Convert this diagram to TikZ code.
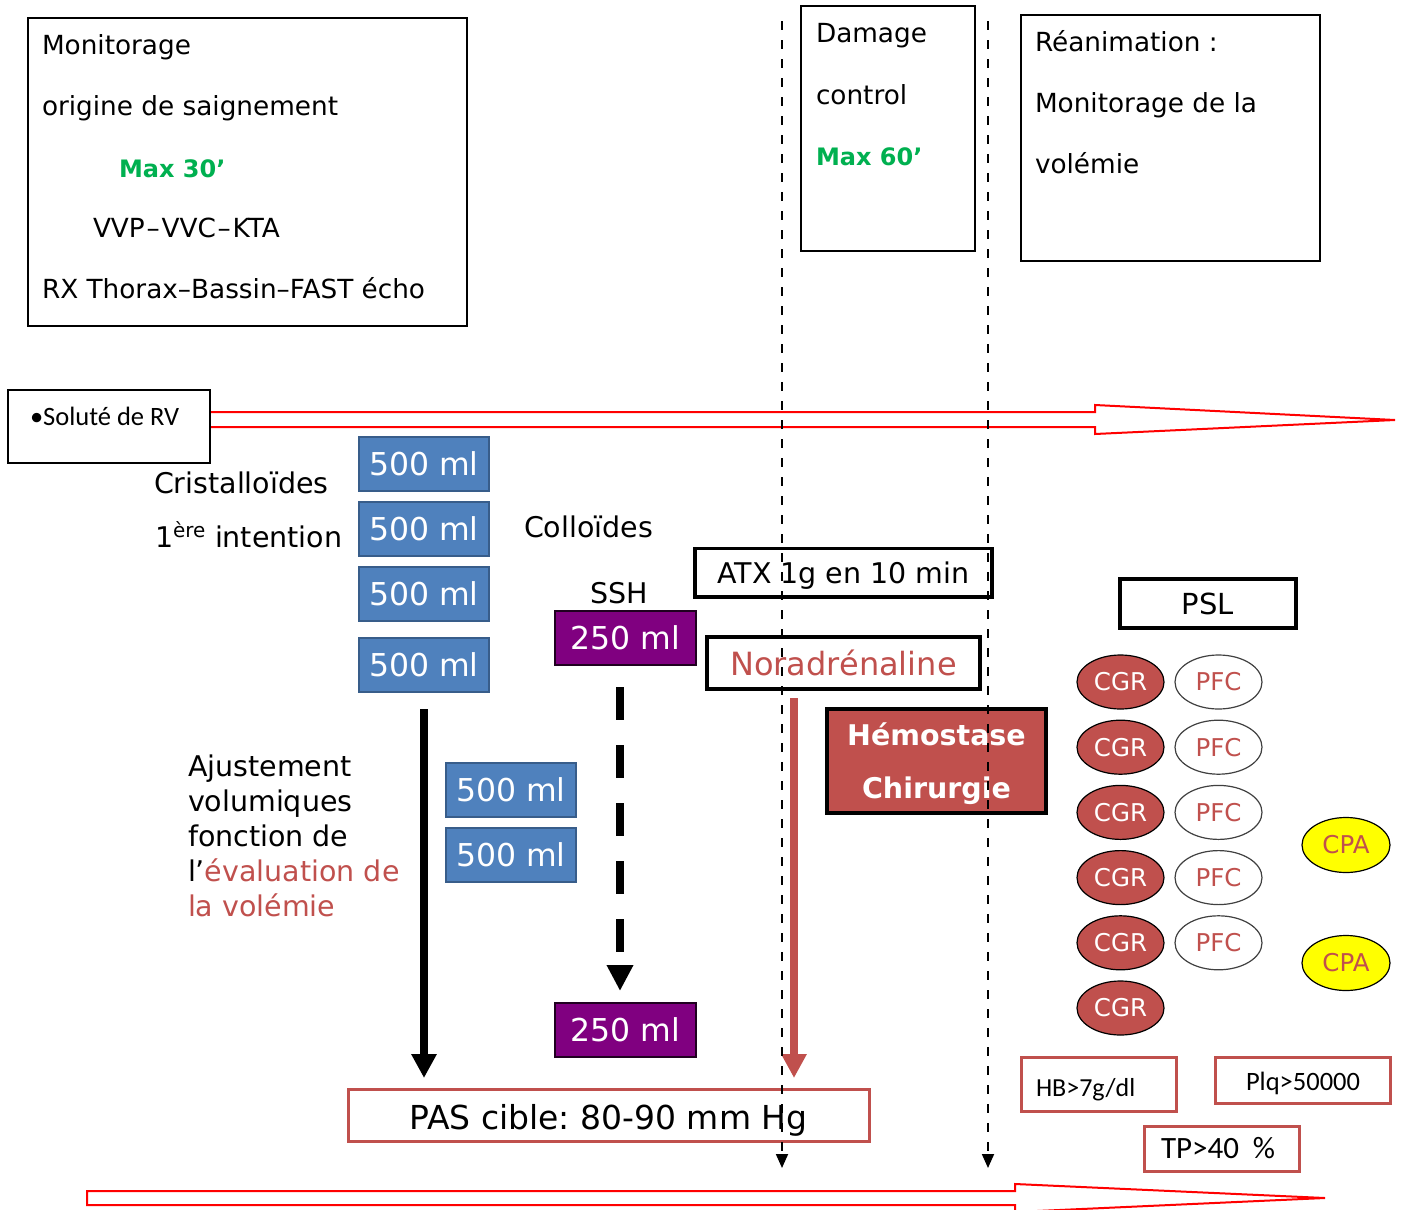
\documentclass[tikz,border=0pt]{standalone}
\usepackage{fontspec}
\setmainfont{DejaVu Sans}
\newfontfamily\calib{Carlito}
\usetikzlibrary{arrows.meta,calc,shapes.geometric}
\frenchspacing
\newcommand\fsz[2]{\fontsize{#1}{#2}\selectfont}
\newcommand\dashsep{\kern1.8pt–\kern1.8pt}
\definecolor{bfill}{HTML}{4F81BD}
\definecolor{bline}{HTML}{385D8A}
\definecolor{purp}{HTML}{800080}
\definecolor{rouge}{HTML}{C0504D}
\definecolor{vert}{HTML}{00B050}
\definecolor{jaune}{HTML}{FFFF00}
\begin{document}
\begin{tikzpicture}[x=1pt,y=-1pt,
  every node/.style={inner sep=0pt, outer sep=0pt},
  frame/.style={draw, line width=2.5pt, fill=white},
  thickbox/.style={draw, line width=3.5pt},
  redbox/.style={draw=rouge, line width=3pt},
  bluebox/.style={draw=bline, line width=1.5pt, fill=bfill, text=white,
    minimum width=130pt, minimum height=54pt, font=\fsz{31.5}{36}},
  purplebox/.style={draw=black!75!purp, line width=1.5pt, fill=purp, text=white,
    minimum width=141pt, minimum height=54pt, font=\fsz{31.5}{36}},
  txt/.style={anchor=base west},
  maintxt/.style={txt, font=\fsz{28.5}{34}},
  toptxt/.style={txt, font=\fsz{26.3}{30}},
  maxtxt/.style={txt, text=vert, font=\bfseries\fsz{24}{28}},
  cgr/.style={ellipse, draw=black, line width=1.2pt, fill=rouge, text=white,
    minimum width=87pt, minimum height=54pt, font=\fsz{24.5}{28}},
  pfc/.style={ellipse, draw=black!75, line width=1.2pt, fill=white, text=rouge,
    minimum width=87pt, minimum height=54pt, font=\fsz{24.5}{28}},
  cpa/.style={ellipse, draw=black, line width=1.2pt, fill=jaune, text=rouge,
    minimum width=88pt, minimum height=55pt, font=\fsz{24.5}{28}},
  bigarrow/.style={line width=8pt, -{Triangle[length=24pt,width=24pt]}},
  dasharrow/.style={line width=8pt, dash pattern=on 33pt off 25pt,
    -{Triangle[length=26pt,width=25pt]}},
  vdash/.style={line width=1.8pt, dash pattern=on 9pt off 10pt,
    -{Triangle[length=14pt,width=12pt]}},
  hollow/.style={draw=red, line width=2pt, fill=white, line join=miter},
]
\useasboundingbox (0,0) rectangle (1406,1210);

% --- hollow time arrows ---
\draw[hollow] (200,412) -- (1095,412) -- (1095,405) -- (1395,420)
  -- (1095,434) -- (1095,427) -- (200,427) -- cycle;
\draw[hollow] (87,1191) -- (1015,1191) -- (1015,1184) -- (1325,1198)
  -- (1015,1212) -- (1015,1205) -- (87,1205) -- cycle;

% --- top boxes ---
\node[frame, minimum width=439pt, minimum height=308pt] (mon) at (247.5,172) {};
\node[toptxt] (m1) at (42,54) {Monitorage};
\node[toptxt] (m2) at (42,115) {origine de saignement};
\node[maxtxt] (m3) at (119,177) {Max 30’};
\node[toptxt] (m4) at (93,237) {VVP\dashsep VVC\dashsep KTA};
\node[toptxt] (m5) at (42,298) {RX Thorax–Bassin–FAST écho};

\node[frame, minimum width=174pt, minimum height=245pt] (dc) at (888,128.5) {};
\node[toptxt] (d1) at (816,42) {Damage};
\node[toptxt] (d2) at (816,104) {control};
\node[maxtxt] (d3) at (816,165) {Max 60’};

\node[frame, minimum width=299pt, minimum height=246pt] (rea) at (1170.5,138) {};
\node[toptxt] (r1) at (1035,51) {Réanimation :};
\node[toptxt] (r2) at (1035,112) {Monitorage de la};
\node[toptxt] (r3) at (1035,173) {volémie};

% --- fluids ---
\node[frame, minimum width=202pt, minimum height=73pt] (sol) at (109,426.5) {};
\node[txt, font=\calib\fsz{26.5}{30}] (solt) at (30,425) {•Soluté de RV};

\node[maintxt] (cri) at (154,493) {Cristalloïdes};
\node[maintxt] (int) at (155,547) {1\textsuperscript{ère} intention};
\node[maintxt] (col) at (524,537) {Colloïdes};
\node[maintxt] (ssh) at (590,603) {SSH};

\node[bluebox] (b1) at (424,464) {500 ml};
\node[bluebox] (b2) at (424,529) {500 ml};
\node[bluebox] (b3) at (424,594) {500 ml};
\node[bluebox] (b4) at (424,665) {500 ml};
\node[bluebox] (b5) at (511,790) {500 ml};
\node[bluebox] (b6) at (511,855) {500 ml};

\node[purplebox] (s1) at (625.5,638) {250 ml};
\node[purplebox] (s2) at (625.5,1030) {250 ml};

\node[maintxt] (a1) at (188,776) {Ajustement};
\node[maintxt] (a2) at (188,811) {volumiques};
\node[maintxt] (a3) at (188,846) {fonction de};
\node[maintxt] (a4) at (188,881) {l’\textcolor{rouge}{évaluation de}};
\node[maintxt, text=rouge] (a5) at (188,916) {la volémie};

% --- drugs and surgery ---
\node[thickbox, text height=21pt, text depth=0pt, minimum width=297pt,
  minimum height=48.5pt, font=\fsz{28.5}{34}]
  (atx) at (843.5,572.75) {ATX 1g en 10 min};
\node[thickbox, minimum width=273pt, minimum height=52pt, text=rouge, font=\fsz{32}{38}]
  (nor) at (843.5,663) {Noradrénaline};
\node[thickbox, fill=rouge, minimum width=219pt, minimum height=104pt] (hem) at (936.5,761) {};
\node[anchor=base, text=white, font=\bfseries\fsz{28.5}{34}] (h1) at (936.5,745) {Hémostase};
\node[anchor=base, text=white, font=\bfseries\fsz{28.5}{34}] (h2) at (936.5,798) {Chirurgie};

\node[redbox, minimum width=521pt, minimum height=52pt] (pas) at (608.5,1115) {};
\node[anchor=base, font=\fsz{33}{38}] (past) at (608.5,1129) {PAS cible: 80-90 mm Hg};

% --- blood products ---
\node[thickbox, minimum width=176pt, minimum height=49pt, font=\fsz{29}{34}]
  (psl) at (1208,603.5) {PSL};
\foreach \i in {0,...,5} {
  \node[cgr] (cgr\i) at (1120.5,682+65.2*\i) {CGR};
}
\foreach \i in {0,...,4} {
  \node[pfc] (pfc\i) at (1218.5,682+65.2*\i) {PFC};
}
\node[cpa] (cpa1) at (1346,845) {CPA};
\node[cpa] (cpa2) at (1346,963) {CPA};

\node[redbox, minimum width=154.5pt, minimum height=54pt] (hb) at (1099,1084) {};
\node[txt, font=\calib\fsz{26}{30}] (hbt) at (1036,1096) {HB>7g/dl};
\node[redbox, minimum width=175pt, minimum height=46pt] (plq) at (1303,1080) {};
\node[txt, font=\calib\fsz{26.5}{30}] (plqt) at (1246,1090) {Plq>50000};
\node[redbox, minimum width=155pt, minimum height=45pt] (tp) at (1221.5,1149) {};
\node[txt, font=\calib\fsz{31}{36}] (tpt) at (1161,1158) {TP>40\hspace{0.45em}\%};

% --- arrows ---
\draw[bigarrow] ($(b4.south)+(0,17)$) -- ($(b4.south |- pas.north)+(0,-11)$);
\draw[dasharrow] ($(s1.south)+(-5.5,22)$) -- ($(s2.north)+(-5.5,-12)$);
\draw[bigarrow, draw=rouge, fill=rouge] ($(nor.south)+(-49.5,9)$)
  -- ($(nor.south |- pas.north)+(-49.5,-11)$);

% --- phase limits ---
\coordinate (l1top) at (782,21);
\coordinate (l1bot) at (782,1168);
\coordinate (l2top) at (988,21);
\coordinate (l2bot) at (988,1168);
\draw[vdash] (l1top) -- (l1bot);
\draw[vdash] (l2top) -- (l2bot);
\end{tikzpicture}
\end{document}
